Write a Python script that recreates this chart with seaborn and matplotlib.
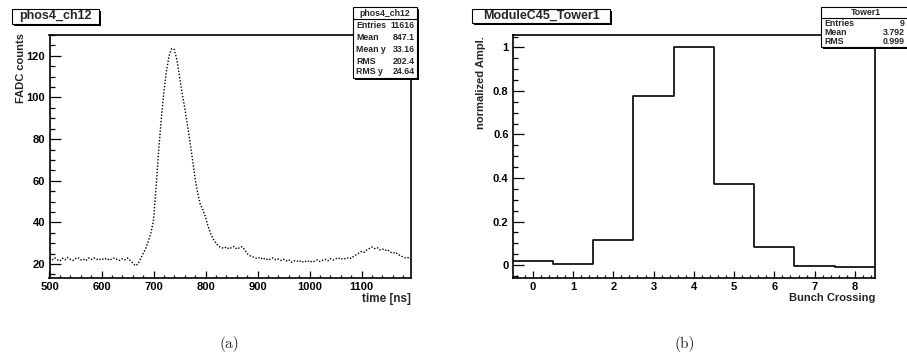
import numpy as np
import pandas as pd
import matplotlib
matplotlib.use("Agg")
import matplotlib.pyplot as plt
import seaborn as sns
from matplotlib.patches import Rectangle
from matplotlib.lines import Line2D
from matplotlib.ticker import MultipleLocator, FormatStrFormatter

# ---------------- data (a): FADC pulse ----------------
time_ns = [
    500, 505, 510, 515, 520, 525, 530, 535, 540, 545,
    550, 555, 560, 565, 570, 575, 580, 585, 590, 595,
    600, 605, 610, 615, 620, 625, 630, 635, 640, 645,
    650, 655, 660, 665, 670, 675, 680, 685, 690, 695,
    700, 705, 710, 715, 720, 725, 730, 735, 740, 745,
    750, 755, 760, 765, 770, 775, 780, 785, 790, 795,
    800, 805, 810, 815, 820, 825, 830, 835, 840, 845,
    850, 855, 860, 865, 870, 875, 880, 885, 890, 895,
    900, 905, 910, 915, 920, 925, 930, 935, 940, 945,
    950, 955, 960, 965, 970, 975, 980, 985, 990, 995,
    1000, 1005, 1010, 1015, 1020, 1025, 1030, 1035, 1040, 1045,
    1050, 1055, 1060, 1065, 1070, 1075, 1080, 1085, 1090, 1095,
    1100, 1105, 1110, 1115, 1120, 1125, 1130, 1135, 1140, 1145,
    1150, 1155, 1160, 1165, 1170, 1175, 1180, 1185, 1190, 1195,
]
fadc_counts = [
    22.5, 21.8, 23.0, 22.1, 21.5, 22.8, 22.0, 23.2, 22.3, 21.7,
    22.6, 23.1, 22.0, 22.4, 21.6, 22.9, 22.2, 23.0, 22.5, 21.9,
    22.7, 22.1, 22.8, 21.8, 22.4, 23.0, 22.2, 21.7, 22.6, 22.0,
    22.9, 21.8, 20.5, 19.2, 20.0, 22.5, 25.0, 27.5, 31.0, 35.0,
    41.0, 57.0, 75.0, 90.0, 103.0, 113.0, 120.0, 123.5, 123.0, 118.0,
    110.0, 102.0, 95.0, 87.0, 79.0, 70.0, 61.0, 54.0, 48.5, 46.0,
    42.5, 38.0, 34.5, 32.0, 30.0, 28.5, 28.0, 27.5, 28.2, 27.3,
    27.9, 28.5, 27.2, 27.8, 28.3, 27.0, 25.0, 24.0, 23.5, 23.0,
    22.6, 23.3, 22.2, 22.8, 21.9, 22.5, 23.0, 22.0, 22.4, 21.7,
    22.3, 21.5, 22.1, 20.9, 21.6, 21.2, 21.8, 20.8, 21.5, 21.0,
    21.7, 20.9, 21.4, 22.0, 21.2, 21.8, 22.3, 21.5, 22.6, 21.9,
    22.5, 23.0, 22.2, 22.8, 22.4, 23.2, 22.7, 23.8, 24.5, 25.3,
    26.0, 25.6, 26.8, 27.5, 28.2, 27.4, 27.9, 26.8, 27.3, 26.5,
    26.9, 25.8, 25.2, 25.7, 24.6, 24.0, 23.4, 22.8, 23.1, 22.5,
]

# ---------------- data (b): normalized amplitude per bunch crossing ----------------
bunch_crossing = [0, 1, 2, 3, 4, 5, 6, 7, 8]
norm_ampl = [0.017, 0.005, 0.116, 0.775, 1.0, 0.374, 0.081, -0.006, -0.011]
bin_edges = [-0.5, 0.5, 1.5, 2.5, 3.5, 4.5, 5.5, 6.5, 7.5, 8.5]

stats_a = [("Entries", "11616"), ("Mean", "847.1"), ("Mean y", "33.16"),
           ("RMS", "202.4"), ("RMS y", "24.64")]
stats_b = [("Entries", "9"), ("Mean", "3.792"), ("RMS", "0.999")]

# ---------------- style ----------------
sns.set_style("white")
plt.rcParams["font.family"] = ["Liberation Sans", "DejaVu Sans"]
plt.rcParams["font.weight"] = "bold"

W, H = 907, 356
fig = plt.figure(figsize=(W / 100, H / 100), dpi=100)
fig.patch.set_facecolor("white")


def fx(px):
    return px / W


def fy(py):
    return 1 - py / H


top, bot = 35, 278
axL = fig.add_axes([fx(49.5), fy(bot), (411 - 49.5) / W, (bot - top) / H])
axR = fig.add_axes([fx(512.7), fy(bot), (875 - 512.7) / W, (bot - top) / H])

# (a)
dfa = pd.DataFrame({"time": time_ns, "counts": fadc_counts})
sns.lineplot(data=dfa, x="time", y="counts", ax=axL, color="black",
             linestyle=(0, (1, 1.3)), linewidth=1.0)
axL.set_xlim(500, 1195)
axL.set_ylim(13.3, 130)
axL.xaxis.set_major_locator(MultipleLocator(100))
axL.xaxis.set_minor_locator(MultipleLocator(20))
axL.yaxis.set_major_locator(MultipleLocator(20))
axL.yaxis.set_minor_locator(MultipleLocator(5))

# (b)
dfb = pd.DataFrame({"bc": bunch_crossing, "amp": norm_ampl})
sns.histplot(data=dfb, x="bc", weights="amp", bins=bin_edges, element="step",
             fill=False, color="black", linewidth=1.2, ax=axR)
axR.set_xlim(-0.5, 8.5)
axR.set_ylim(-0.0595, 1.057)
axR.xaxis.set_major_locator(MultipleLocator(1))
axR.xaxis.set_minor_locator(MultipleLocator(0.2))
axR.yaxis.set_major_locator(MultipleLocator(0.2))
axR.yaxis.set_minor_locator(MultipleLocator(0.05))
axR.yaxis.set_major_formatter(FormatStrFormatter("%g"))

for ax in (axL, axR):
    ax.set_xlabel("")
    ax.set_ylabel("")
    for s in ax.spines.values():
        s.set_linewidth(1.2)
        s.set_color("black")
    ax.tick_params(axis="both", which="both", direction="in", top=False,
                   right=False, left=True, bottom=True, colors="black",
                   labelsize=8, width=0.9)
    ax.tick_params(axis="y", which="major", length=7.7, pad=3)
    ax.tick_params(axis="y", which="minor", length=3.8)
    ax.tick_params(axis="x", which="major", length=5.0, pad=3)
    ax.tick_params(axis="x", which="minor", length=2.4)
    for lab in ax.get_xticklabels() + ax.get_yticklabels():
        lab.set_fontweight("bold")

# axis titles
fig.text(fx(21.5), fy(33), "FADC counts", rotation=90, ha="center", va="top",
         fontsize=8, fontweight="bold")
fig.text(fx(481), fy(36), "normalized Ampl.", rotation=90, ha="center", va="top",
         fontsize=8, fontweight="bold")
fig.text(fx(411), fy(299), "time [ns]", ha="right", va="center",
         fontsize=8.5, fontweight="bold")
fig.text(fx(875), fy(298), "Bunch Crossing", ha="right", va="center",
         fontsize=8, fontweight="bold")


def shadow_box(x0, y0, x1, y1, sh=2, lw=0.8):
    fig.add_artist(Rectangle((fx(x0 + sh), fy(y1 + sh)), (x1 - x0) / W, (y1 - y0) / H,
                             transform=fig.transFigure, facecolor="black",
                             edgecolor="black", lw=0, zorder=5))
    fig.add_artist(Rectangle((fx(x0), fy(y1)), (x1 - x0) / W, (y1 - y0) / H,
                             transform=fig.transFigure, facecolor="white",
                             edgecolor="black", lw=lw, zorder=6))


# title boxes
shadow_box(12, 9, 99, 24)
fig.text(fx(55.5), fy(16.5), "phos4_ch12", ha="center", va="center",
         fontsize=9, fontweight="bold", zorder=7)
shadow_box(472, 9, 610, 23)
fig.text(fx(541), fy(16), "ModuleC45_Tower1", ha="center", va="center",
         fontsize=9, fontweight="bold", zorder=7)

SF = 6.3
# stat box (a)
shadow_box(353, 7, 417, 78)
fig.add_artist(Line2D([fx(353), fx(417)], [fy(19), fy(19)], transform=fig.transFigure,
                      color="black", lw=0.8, zorder=7))
fig.text(fx(385), fy(13), "phos4_ch12", ha="center", va="center",
         fontsize=SF, fontweight="bold", zorder=7)
rows_a = [25, 37, 49, 61, 72]
for (lab, val), yy in zip(stats_a, rows_a):
    fig.text(fx(356), fy(yy), lab, ha="left", va="center", fontsize=SF,
             fontweight="bold", zorder=7)
    fig.text(fx(415), fy(yy), val, ha="right", va="center", fontsize=SF,
             fontweight="bold", zorder=7)

# stat box (b)
shadow_box(821, 7, 912, 47)
fig.add_artist(Line2D([fx(821), fx(907)], [fy(18), fy(18)], transform=fig.transFigure,
                      color="black", lw=0.8, zorder=7))
fig.text(fx(866), fy(12.5), "Tower1", ha="center", va="center",
         fontsize=SF, fontweight="bold", zorder=7)
rows_b = [23.5, 32.5, 41.5]
for (lab, val), yy in zip(stats_b, rows_b):
    fig.text(fx(824), fy(yy), lab, ha="left", va="center", fontsize=SF,
             fontweight="bold", zorder=7)
    fig.text(fx(905), fy(yy), val, ha="right", va="center", fontsize=SF,
             fontweight="bold", zorder=7)

# captions
fig.text(fx(229), fy(344), "(a)", ha="center", va="center", fontsize=11,
         family="cmr10")
fig.text(fx(685), fy(344), "(b)", ha="center", va="center", fontsize=11,
         family="cmr10")

fig.savefig("out.png", dpi=100, facecolor="white")
